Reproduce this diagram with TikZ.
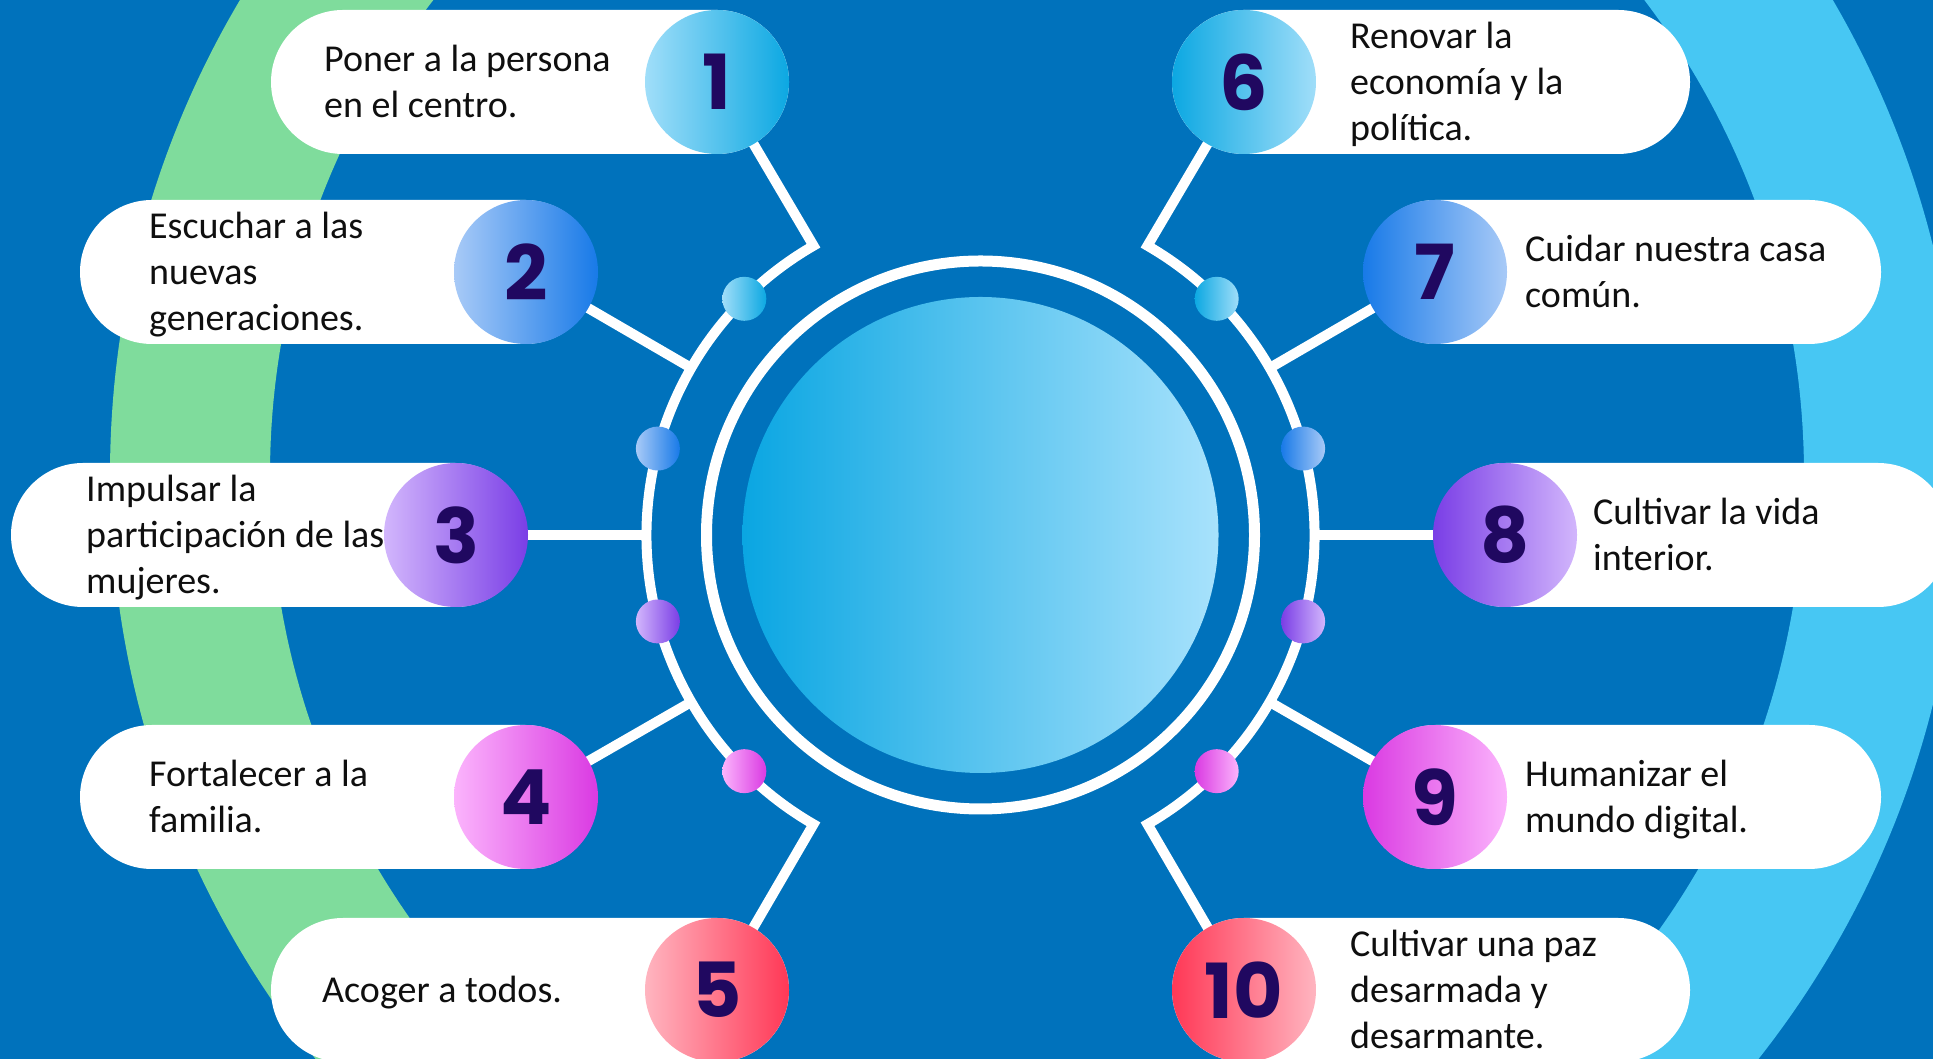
\documentclass[tikz,border=0pt]{standalone}
\usepackage{fontspec}
\setmainfont{Carlito}
\newfontfamily\numfont{Poppins}
\usetikzlibrary{calc}
\pgfdeclarelayer{backdrop}
\pgfdeclarelayer{links}
\pgfsetlayers{backdrop,links,main}
\definecolor{bg}{RGB}{0,114,188}
\definecolor{ringgreen}{RGB}{127,220,156}
\definecolor{ringblue}{RGB}{71,199,243}
\definecolor{navy}{RGB}{32,8,96}
\definecolor{cyanL}{RGB}{160,222,249}
\definecolor{cyanD}{RGB}{12,168,226}
\definecolor{blueL}{RGB}{168,202,247}
\definecolor{blueD}{RGB}{24,122,232}
\definecolor{purpL}{RGB}{210,182,252}
\definecolor{purpD}{RGB}{122,62,230}
\definecolor{pinkL}{RGB}{251,180,252}
\definecolor{pinkD}{RGB}{218,58,226}
\definecolor{redL}{RGB}{255,181,192}
\definecolor{redD}{RGB}{255,56,86}
\definecolor{coreL}{RGB}{10,166,226}
\definecolor{coreR}{RGB}{168,226,252}
\definecolor{txt}{RGB}{15,15,15}
\begin{document}
\begin{tikzpicture}[x=1pt,y=1pt,
  pill/.style={rectangle, fill=white, rounded corners=72pt, minimum height=144pt, inner sep=0pt},
  numc/.style={circle, minimum size=144pt, inner sep=0pt, font=\numfont\bfseries\fontsize{76}{76}\selectfont, text=navy},
  dotc/.style={circle, minimum size=44pt, inner sep=0pt},
  conn/.style={draw=white, line width=10pt, line join=miter},
  lbl/.style={anchor=west, align=left, inner sep=0pt, font=\fontsize{38}{46}\selectfont, text=txt}]
\useasboundingbox (0,0) rectangle (1933,1059);
\clip (0,0) rectangle (1933,1059);

% background and big rings
\begin{pgfonlayer}{backdrop}
\fill[bg] (0,0) rectangle (1933,1059);
\begin{scope}
\clip (0,0) rectangle (980.5,1059);
\draw[ringgreen, line width=160pt] (1042,584) circle[radius=852pt];
\end{scope}
\begin{scope}
\clip (980.5,0) rectangle (1933,1059);
\draw[ringblue, line width=157pt] (1018,584) circle[radius=864.5pt];
\end{scope}
\end{pgfonlayer}

\coordinate (C) at (980.5,524);
\foreach \a/\n in {120/a1,150/a2,180/a3,210/a4,240/a5,60/a6,30/a7,0/a8,-30/a9,-60/a10}
  \coordinate (\n) at ($(C)+(\a:334pt)$);

% pills
\node[pill, minimum width=518pt] (p1) at (530,977) {};
\node[pill, minimum width=517pt] (p2) at (338.5,787) {};
\node[pill, minimum width=516pt] (p3) at (269,524) {};
\node[pill, minimum width=517pt] (p4) at (338.5,262) {};
\node[pill, minimum width=518pt] (p5) at (530,69) {};
\node[pill, minimum width=518pt] (p6) at (1431,977) {};
\node[pill, minimum width=517pt] (p7) at (1622.5,787) {};
\node[pill, minimum width=516pt] (p8) at (1692,524) {};
\node[pill, minimum width=517pt] (p9) at (1622.5,262) {};
\node[pill, minimum width=518pt] (p10) at (1431,69) {};

% number circles
\node[numc, left color=cyanL, right color=cyanD] (n1) at (717,977) {1};
\node[numc, left color=blueL, right color=blueD] (n2) at (526,787) {2};
\node[numc, left color=purpL, right color=purpD] (n3) at (456,524) {3};
\node[numc, left color=pinkL, right color=pinkD] (n4) at (526,262) {4};
\node[numc, left color=redL, right color=redD] (n5) at (717,69) {5};
\node[numc, left color=cyanD, right color=cyanL] (n6) at (1244,977) {6};
\node[numc, left color=blueD, right color=blueL] (n7) at (1435,787) {7};
\node[numc, left color=purpD, right color=purpL] (n8) at (1505,524) {8};
\node[numc, left color=pinkD, right color=pinkL] (n9) at (1435,262) {9};
\node[numc, left color=redD, right color=redL] (n10) at (1244,69) {10};

% connectors and arcs
\begin{pgfonlayer}{links}
\draw[conn] (n1.center) -- (a1) arc[start angle=120, end angle=240, radius=334pt] -- (n5.center);
\draw[conn] (n2.center) -- (a2);
\draw[conn] (n3.center) -- (a3);
\draw[conn] (n4.center) -- (a4);
\draw[conn] (n6.center) -- (a6) arc[start angle=60, end angle=-60, radius=334pt] -- (n10.center);
\draw[conn] (n7.center) -- (a7);
\draw[conn] (n8.center) -- (a8);
\draw[conn] (n9.center) -- (a9);
\end{pgfonlayer}

% dots on the arcs
\node[dotc, left color=cyanL, right color=cyanD] (d1) at ($(C)+(135:334pt)$) {};
\node[dotc, left color=blueL, right color=blueD] (d2) at ($(C)+(165:334pt)$) {};
\node[dotc, left color=purpL, right color=purpD] (d3) at ($(C)+(195:334pt)$) {};
\node[dotc, left color=pinkL, right color=pinkD] (d4) at ($(C)+(225:334pt)$) {};
\node[dotc, left color=cyanD, right color=cyanL] (d5) at ($(C)+(45:334pt)$) {};
\node[dotc, left color=blueD, right color=blueL] (d6) at ($(C)+(15:334pt)$) {};
\node[dotc, left color=purpD, right color=purpL] (d7) at ($(C)+(-15:334pt)$) {};
\node[dotc, left color=pinkD, right color=pinkL] (d8) at ($(C)+(-45:334pt)$) {};

% central ring and disc
\node[circle, draw=white, line width=11pt, minimum size=548pt, inner sep=0pt] (ring) at (C) {};
\node[circle, minimum size=476pt, inner sep=0pt, left color=coreL, right color=coreR] (core) at (C) {};

% labels
\node[lbl] (t1) at (324,974) {\strut Poner a la persona\\en el centro.\strut};
\node[lbl] (t2) at (149,784) {\strut Escuchar a las\\nuevas\\generaciones.\strut};
\node[lbl] (t3) at (86,521) {\strut Impulsar la\\participación de las\\mujeres.\strut};
\node[lbl] (t4) at (149,259) {\strut Fortalecer a la\\familia.\strut};
\node[lbl] (t5) at (322,66) {\strut Acoger a todos.\strut};
\node[lbl] (t6) at (1350,974) {\strut Renovar la\\economía y la\\política.\strut};
\node[lbl] (t7) at (1525,784) {\strut Cuidar nuestra casa\\común.\strut};
\node[lbl] (t8) at (1593,521) {\strut Cultivar la vida\\interior.\strut};
\node[lbl] (t9) at (1525,259) {\strut Humanizar el\\mundo digital.\strut};
\node[lbl] (t10) at (1350,66) {\strut Cultivar una paz\\desarmada y\\desarmante.\strut};
\end{tikzpicture}
\end{document}
